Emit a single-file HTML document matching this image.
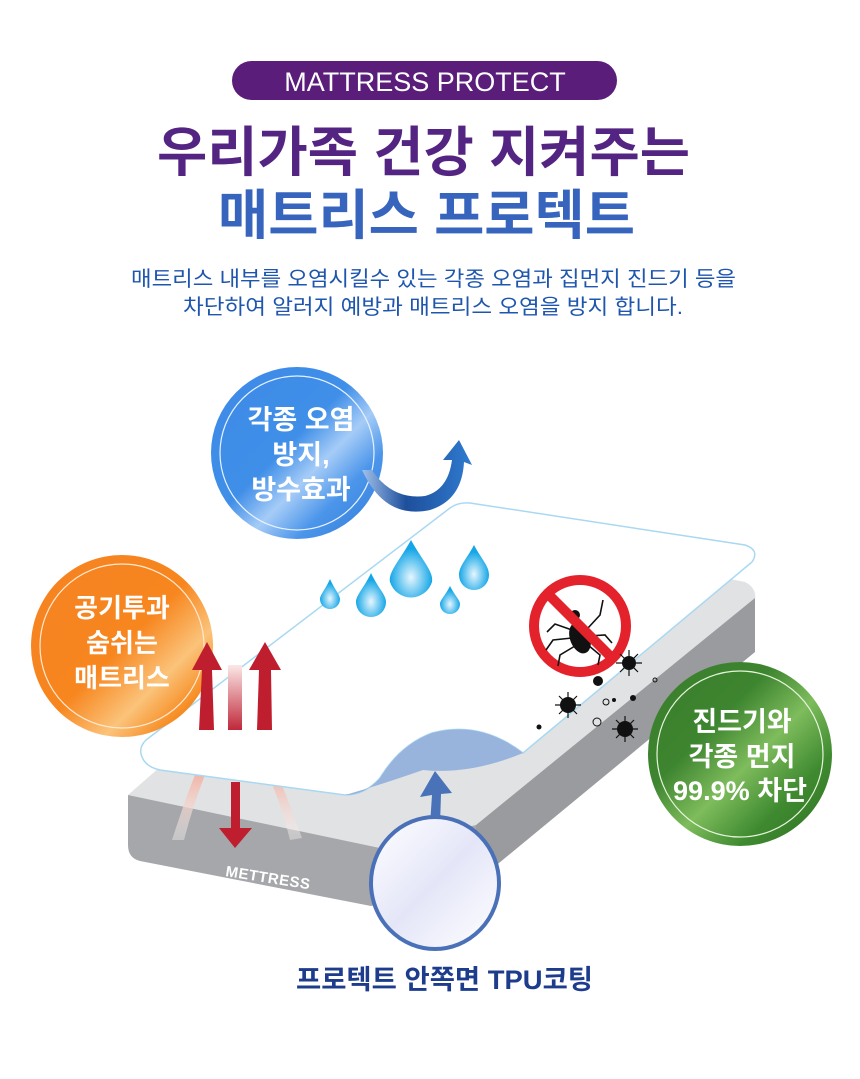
<!DOCTYPE html>
<html><head><meta charset="utf-8"><style>
html,body{margin:0;padding:0;background:#fff}
body{width:860px;height:1074px;overflow:hidden}
svg text{font-family:"Liberation Sans","Noto Sans CJK KR",sans-serif}
</style></head><body>
<svg width="860" height="1074" viewBox="0 0 860 1074" xmlns="http://www.w3.org/2000/svg">
<defs>
<linearGradient id="bg1" x1="0" y1="0" x2="1" y2="1"><stop offset="0" stop-color="#3d8be6"/><stop offset="0.45" stop-color="#3f8ee8"/><stop offset="0.6" stop-color="#a6ccf7"/><stop offset="0.75" stop-color="#4b95ea"/><stop offset="1" stop-color="#2f7ad8"/></linearGradient>
<linearGradient id="og" x1="0" y1="0" x2="1" y2="1"><stop offset="0" stop-color="#f58220"/><stop offset="0.5" stop-color="#f7861f"/><stop offset="0.7" stop-color="#fbc37a"/><stop offset="0.85" stop-color="#f68a20"/><stop offset="1" stop-color="#f07a18"/></linearGradient>
<linearGradient id="gg" x1="0" y1="0" x2="1" y2="1"><stop offset="0" stop-color="#3a7d2a"/><stop offset="0.35" stop-color="#3e8530"/><stop offset="0.55" stop-color="#7ebc5c"/><stop offset="0.75" stop-color="#3f8a30"/><stop offset="1" stop-color="#2f7024"/></linearGradient>
<radialGradient id="dg" cx="0.5" cy="0.65" r="0.5"><stop offset="0" stop-color="#e6f6ff"/><stop offset="1" stop-color="#14a6e6"/></radialGradient>
<linearGradient id="ag" x1="0" y1="0" x2="1" y2="0"><stop offset="0" stop-color="#9fc0ea"/><stop offset="0.4" stop-color="#1e4f9c"/><stop offset="1" stop-color="#2f7bd0"/></linearGradient>
<linearGradient id="rf" x1="0" y1="1" x2="0" y2="0"><stop offset="0" stop-color="#c0283a"/><stop offset="1" stop-color="#fbe8e6"/></linearGradient>
<linearGradient id="wf" x1="0" y1="0" x2="0" y2="1"><stop offset="0" stop-color="#f1b5a8"/><stop offset="1" stop-color="#f4f4f4" stop-opacity="0.4"/></linearGradient>
<linearGradient id="lc" x1="0" y1="0" x2="1" y2="1"><stop offset="0" stop-color="#ffffff"/><stop offset="0.5" stop-color="#e4e6f8"/><stop offset="1" stop-color="#ffffff"/></linearGradient>
</defs>

<!-- header -->
<rect x="232" y="61" width="385" height="39" rx="19.5" fill="#5a1d7a"/>
<text x="425" y="91" font-size="27" fill="#fff" text-anchor="middle">MATTRESS PROTECT</text>
<text x="157" y="171" font-size="54" font-weight="bold" fill="#542483" textLength="533" lengthAdjust="spacingAndGlyphs">우리가족 건강 지켜주는</text>
<text x="218" y="234" font-size="54" font-weight="bold" fill="#3765bd" textLength="417" lengthAdjust="spacingAndGlyphs">매트리스 프로텍트</text>
<text x="131" y="286" font-size="21" fill="#1f56ad" textLength="605" lengthAdjust="spacingAndGlyphs">매트리스 내부를 오염시킬수 있는 각종 오염과 집먼지 진드기 등을</text>
<text x="183" y="314" font-size="21" fill="#1f56ad" textLength="500" lengthAdjust="spacingAndGlyphs">차단하여 알러지 예방과 매트리스 오염을 방지 합니다.</text>

<!-- mattress -->
<path d="M128,795 L440,522 L745,582 Q757,588 755,600 L476,825 L380,848 Z" fill="#e1e2e3"/>
<path d="M128,795 L380,848 L476,825 L476,882 L371,906 L140,861 Q128,858 128,845 Z" fill="#a6a7aa"/>
<path d="M476,825 L755,598 L755,652 L476,882 Z" fill="#9a9b9e"/>
<text x="225" y="876" font-size="15" font-weight="bold" fill="#fff" transform="rotate(9 225 876)" style="letter-spacing:0.5px">METTRESS</text>

<path d="M172,840 Q185,800 195,775 L205,775 Q193,805 184,840 Z" fill="url(#wf)"/>
<path d="M290,840 Q280,800 268,775 L278,775 Q290,805 302,838 Z" fill="url(#wf)"/>

<!-- sheet -->
<path d="M142,757 Q138,748 146,740 L450,508 Q458,502 470,503 L745,545 Q760,550 752,562 L523,753 Q480,720 432,733 Q400,745 380,778 Q365,795 345,795 L160,770 Q146,767 142,757 Z" fill="#fff" stroke="#a9d8f2" stroke-width="1.5"/>
<path d="M345,795 Q365,795 380,778 Q400,745 432,733 Q480,720 523,753 Q470,775 423,770 Q380,785 345,795 Z" fill="#98b4dd"/>

<!-- drops -->
<g fill="url(#dg)">
<path d="M411,540 C400,560 388,572 390,582 A22,22 0 0 0 432,582 C434,572 422,560 411,540 Z"/>
<path d="M474,545 C466,560 459,566 459,575 A15,15 0 0 0 489,575 C489,566 482,560 474,545 Z"/>
<path d="M371,573 C364,588 356,595 356,602 A15,15 0 0 0 386,602 C386,595 378,588 371,573 Z"/>
<path d="M450,586 C445,596 440,600 440,604 A10,10 0 0 0 460,604 C460,600 455,596 450,586 Z"/>
<path d="M330,579 C325,590 320,595 320,599 A10,10 0 0 0 340,599 C340,595 335,590 330,579 Z"/>
</g>

<!-- no-bug sign -->
<circle cx="580" cy="626" r="46" fill="#fff" stroke="#e3222b" stroke-width="10"/>
<ellipse cx="580" cy="638" rx="10" ry="16" fill="#111" transform="rotate(-20 580 638)"/>
<circle cx="575" cy="615" r="5" fill="#111"/>
<g stroke="#111" stroke-width="1.6" fill="none">
<path d="M572,630 L555,624 L547,632"/><path d="M572,638 L553,640 L546,650"/><path d="M575,646 L560,655 L558,666"/>
<path d="M588,628 L600,615 L603,600"/><path d="M589,636 L605,635 L612,643"/><path d="M588,645 L600,655 L598,665"/>
</g>
<line x1="548" y1="594" x2="612" y2="658" stroke="#e3222b" stroke-width="10"/>

<!-- dust -->
<g fill="#111">
<circle cx="629" cy="663" r="7"/><circle cx="598" cy="681" r="5"/><circle cx="568" cy="705" r="8"/><circle cx="625" cy="729" r="8"/><circle cx="539" cy="727" r="2.5"/><circle cx="633" cy="698" r="3"/><circle cx="614" cy="700" r="2"/><circle cx="597" cy="722" r="4" fill="none" stroke="#111"/>
<circle cx="606" cy="702" r="3" fill="none" stroke="#111"/><circle cx="655" cy="680" r="2" fill="none" stroke="#111"/>
</g>
<g stroke="#111" stroke-width="1.2">
<path d="M629,650 V676 M616,663 H642 M620,654 L638,672 M638,654 L620,672"/>
<path d="M568,692 V718 M555,705 H581 M559,696 L577,714 M577,696 L559,714"/>
<path d="M625,716 V742 M612,729 H638 M616,720 L634,738 M634,720 L616,738"/>
</g>

<path d="M231,782 L240,782 L240,828 L252,828 L235,848 L219,828 L231,828 Z" fill="#bf1e2e"/>

<!-- bottom circle with arrow -->
<path d="M430,825 L432,795 L420,797 L435,771 L452,793 L441,794 L440,825 Z" fill="#4a72b8"/>
<ellipse cx="435" cy="883" rx="64" ry="66" fill="url(#lc)" stroke="#4a70b8" stroke-width="4"/>

<!-- blue circle -->
<circle cx="297" cy="453" r="86" fill="url(#bg1)"/>
<circle cx="297" cy="453" r="77" fill="none" stroke="#e8f2ff" stroke-width="1.2"/>
<text x="301" y="429" font-size="27" font-weight="bold" fill="#fff" text-anchor="middle">각종 오염</text>
<text x="301" y="464" font-size="27" font-weight="bold" fill="#fff" text-anchor="middle">방지,</text>
<text x="301" y="499" font-size="27" font-weight="bold" fill="#fff" text-anchor="middle">방수효과</text>
<path d="M362,470 Q385,520 430,510 Q462,500 464,462 L472,465 L459,440 L443,460 L452,460 Q448,490 425,496 Q392,500 372,470 Z" fill="url(#ag)"/>

<!-- orange circle -->
<circle cx="122" cy="646" r="91" fill="url(#og)"/>
<circle cx="122" cy="646" r="82" fill="none" stroke="#ffe9d2" stroke-width="1.2"/>
<text x="122" y="617" font-size="26" font-weight="bold" fill="#fff" text-anchor="middle">공기투과</text>
<text x="122" y="652" font-size="26" font-weight="bold" fill="#fff" text-anchor="middle">숨쉬는</text>
<text x="122" y="687" font-size="26" font-weight="bold" fill="#fff" text-anchor="middle">매트리스</text>

<!-- red arrows on top -->
<rect x="228" y="665" width="14" height="65" fill="url(#rf)"/>
<path d="M199,730 L202,670 L192,670 L207,642 L222,670 L212,670 L214,730 Z" fill="#bf1e2e"/>
<path d="M257,730 L259,670 L249,670 L265,642 L281,670 L271,670 L272,730 Z" fill="#bf1e2e"/>

<!-- green circle -->
<circle cx="740" cy="754" r="92" fill="url(#gg)"/>
<circle cx="740" cy="754" r="83" fill="none" stroke="#e6f5dc" stroke-width="1.2"/>
<text x="742" y="731" font-size="27" font-weight="bold" fill="#fff" text-anchor="middle">진드기와</text>
<text x="742" y="766" font-size="27" font-weight="bold" fill="#fff" text-anchor="middle">각종 먼지</text>
<text x="740" y="800" font-size="27" font-weight="bold" fill="#fff" text-anchor="middle" textLength="134" lengthAdjust="spacingAndGlyphs">99.9% 차단</text>

<text x="296" y="989" font-size="27" font-weight="bold" fill="#1d3c8c" textLength="297" lengthAdjust="spacingAndGlyphs">프로텍트 안쪽면 TPU코팅</text>
</svg>
</body></html>
